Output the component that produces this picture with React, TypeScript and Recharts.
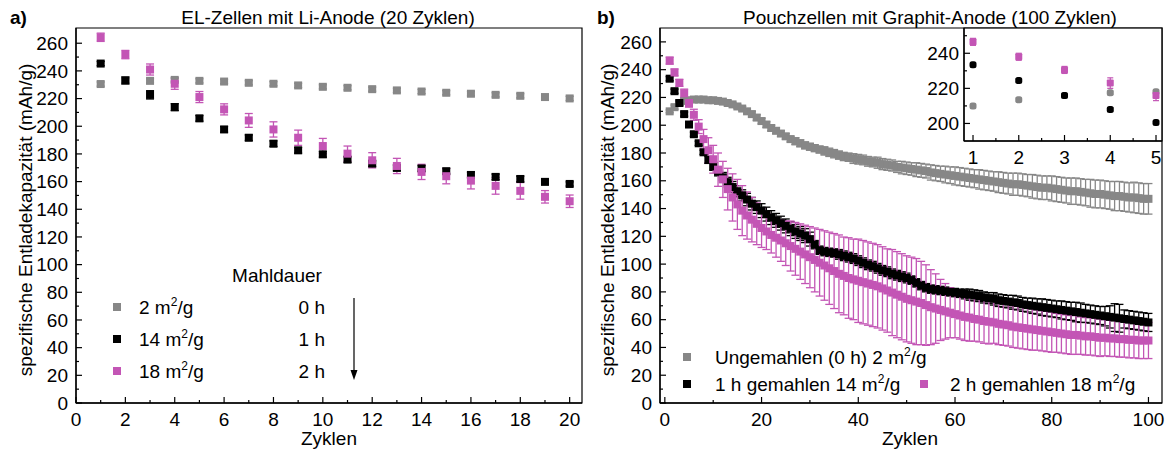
import {
  ErrorBar,
  ReferenceArea,
  Scatter,
  ScatterChart,
  XAxis,
  YAxis,
} from "recharts";

const GRAY = "#878787";
const BLACK = "#000000";
const PINK = "#c355b5";
const FONT = '"Liberation Sans", Arial, sans-serif';
const FS = 19;

// a) EL-Zellen mit Li-Anode, cycles 1..20
const grayA = [230.5, 233, 232.8, 233.5, 232.8, 232.3, 231.4, 230.7, 229.5, 228.5, 227.8, 226.8, 225.9, 225.1, 224.2, 223.5, 222.7, 222, 221.1, 220.1];
const grayErrA = [1.5, 1.5, 1.5, 1.5, 1.5, 1.5, 1.5, 1.5, 1.5, 1.5, 1.5, 1.5, 1.5, 1.5, 1.5, 1.5, 1.5, 1.5, 1.5, 1.5];
const blackA = [245.3, 233.1, 222.7, 213.8, 205.7, 197.7, 191.7, 187.4, 182.6, 179.7, 175.9, 173, 169.9, 169.5, 167.5, 164.8, 163.4, 161.9, 159.8, 158.3];
const blackErrA = [1.5, 2.5, 3, 2.5, 2, 2, 2, 2, 2, 2, 2, 2, 2, 2, 2, 2, 2, 2, 1.5, 1.5];
const pinkA = [264.3, 251.8, 241, 230.7, 221.1, 212.2, 204.2, 197.7, 191.7, 185.7, 180.2, 175.4, 171.3, 167, 163.9, 160.7, 156.9, 153.3, 149, 145.8];
const pinkErrA = [3, 3, 4, 4, 4, 4, 5, 5.5, 5.5, 5.5, 5.5, 5.5, 5.5, 5.5, 5.5, 6, 6, 6, 4.5, 4.5];

// b) Pouchzellen mit Graphit-Anode, cycles 1..100
const grayB = [
  210, 213, 216, 217.5, 218, 218.5, 218.5, 218.5, 218, 218,
  217.5, 217, 216, 215, 213.5, 212, 210, 208, 205.5, 203,
  200.5, 198, 196, 194, 192, 190, 188.5, 187, 185.5, 184.5,
  183.5, 182.5, 181.5, 180.5, 179.5, 178.5, 177.5, 177, 176, 175.5,
  175, 174, 173.5, 173, 172, 171.5, 171, 170, 169.5, 169,
  168.5, 168, 167.5, 167, 166, 165.5, 165, 164.5, 164, 163.5,
  163, 162.5, 162, 161.5, 161, 160.5, 160, 159.5, 159, 158.5,
  158, 157.5, 157.5, 157, 156.5, 156, 155.5, 155, 155, 154.5,
  154, 153.5, 153, 152.5, 152.5, 152, 151.5, 151, 150.5, 150.5,
  150, 149.5, 149, 149, 148.5, 148, 148, 147.5, 147, 147,
];
const grayErrB = [
  1, 1.5, 1.5, 1.5, 1.5, 1.5, 1.5, 1.5, 1.5, 1.5,
  1.5, 1.5, 1.5, 1.5, 1.5, 1.5, 1.5, 2, 2, 2,
  2, 2, 2, 2, 2, 2, 2.5, 2.5, 2.5, 2.5,
  2.5, 2.5, 3, 3, 3, 3, 3, 3, 3.5, 3.5,
  3.5, 3.5, 3.5, 4, 4, 4, 4, 4, 4.5, 4.5,
  4.5, 5, 5, 5, 5.5, 5.5, 5.5, 6, 6, 6.5,
  6.5, 6.5, 6.5, 6.5, 7, 7, 7, 7, 7.5, 7.5,
  7.5, 8, 8, 8, 8, 8.5, 8.5, 8.5, 8.5, 9,
  9, 9, 9, 9.5, 9.5, 9.5, 9.5, 10, 10, 10,
  10, 10, 10.5, 10.5, 10.5, 10.5, 11, 11, 11, 11,
];
const blackB = [
  233.5, 224.5, 216, 208, 200.5, 193.5, 187, 180.5, 175, 170.5,
  166.5, 162.5, 159, 155.5, 152.5, 149.5, 146.5, 143.5, 141, 138.5,
  136, 133.5, 131.5, 129.5, 127.5, 125.5, 123.5, 122, 120.5, 118,
  114, 110, 109, 108.5, 108, 107, 106, 105, 104, 102.5,
  101, 99.5, 98.5, 97, 95.5, 94.5, 93, 92, 91, 90,
  88.5, 86.5, 84.5, 83, 82, 81.5, 81, 80.5, 80, 79.5,
  79, 78.5, 78, 77.5, 77, 76, 75.5, 75, 74, 73.5,
  73, 72.5, 72, 71, 70.5, 70, 69.5, 69, 68.5, 68,
  67.5, 67, 66.5, 66, 65.5, 65, 64.5, 64, 63.5, 63,
  62.5, 62, 61.5, 61, 60.5, 60, 59.5, 59, 58.5, 58,
];
const blackErrB = [
  1.5, 1.5, 1.5, 1.5, 1.5, 1.5, 1.5, 1.5, 2.5, 3,
  3, 3.5, 3.5, 4, 4, 4, 4.5, 4.5, 4.5, 5,
  5, 5, 5, 5, 5, 5, 5, 5, 5, 5,
  3, 3, 3, 3, 3, 3.5, 3.5, 3.5, 3.5, 3.5,
  3.5, 3.5, 3.5, 3.5, 3.5, 3.5, 3.5, 3.5, 3.5, 3.5,
  3, 3, 3, 3, 3, 3, 3, 3, 3, 3,
  3, 3.5, 4, 4, 4, 4, 4, 4.5, 4.5, 4.5,
  4.5, 5, 5, 5, 5, 5.5, 5.5, 6, 6, 6,
  6, 6.5, 6.5, 6.5, 7, 7, 6.5, 6.5, 6.5, 6.5,
  7, 8, 10, 10, 6.5, 6.5, 6.5, 6.5, 6.5, 6.5,
];
const pinkB = [
  246.5, 238, 230.5, 223, 216, 207.5, 199, 190, 182, 175.5,
  168, 161, 154, 148, 143, 138.5, 135, 132, 129, 126,
  123.5, 121, 119, 117, 115, 113, 111, 109, 107, 105,
  103, 101, 99, 97, 95, 93, 91.5, 90, 89, 88,
  87, 86, 85, 84, 82.5, 81, 79.5, 78, 76.5, 75,
  74, 73, 72, 70.5, 69, 68, 67, 66, 65, 64,
  63, 62, 61.5, 60.5, 60, 59, 58.5, 58, 57, 56.5,
  56, 55, 54.5, 54, 53.5, 53, 52.5, 52, 51.5, 51,
  50.5, 50, 49.5, 49, 49, 48.5, 48, 48, 47.5, 47,
  47, 46.5, 46.5, 46, 46, 45.5, 45.5, 45, 45, 45,
];
const pinkErrB = [
  2.5, 2.5, 2.5, 3, 3, 4, 5, 7, 9, 10,
  12, 13, 15, 17, 18, 18, 17, 16, 15, 14,
  13, 13, 14, 15, 16, 18, 19, 20, 21, 22,
  23, 24, 25, 26, 27, 28, 28, 29, 29, 30,
  30, 30, 30, 30, 30, 30, 31, 31, 31, 31,
  31, 31, 30, 29, 27, 25, 22, 20, 18, 17,
  17, 17, 17, 16, 16, 16, 16, 15, 15, 15,
  15, 15, 15, 15, 15, 15, 14.5, 14.5, 14.5, 14.5,
  14, 14, 14, 14, 14, 13.5, 13.5, 13.5, 13.5, 13.5,
  13, 13, 13, 13, 13, 13, 13, 13, 13, 13,
];

// inset: first 5 cycles of b)
const grayIn = [210, 213.5, 216, 217.5, 218];
const blackIn = [233.5, 224.5, 216, 208, 200.5];
const pinkIn = [246.5, 238, 230.5, 223, 216];
const pinkErrIn = [2, 2, 2, 3, 3];

const xTicksA = [0, 1, 2, 3, 4, 5, 6, 7, 8, 9, 10, 11, 12, 13, 14, 15, 16, 17, 18, 19, 20];
const xTicksB = [0, 10, 20, 30, 40, 50, 60, 70, 80, 90, 100];
const yTicks = [0, 10, 20, 30, 40, 50, 60, 70, 80, 90, 100, 110, 120, 130, 140, 150, 160, 170, 180, 190, 200, 210, 220, 230, 240, 250, 260];
const xTicksIn = [1, 1.5, 2, 2.5, 3, 3.5, 4, 4.5, 5];
const yTicksIn = [200, 210, 220, 230, 240, 250];

const toPoints = (ys: number[], errs: number[]) =>
  ys.map((y, i) => ({ x: i + 1, y, err: errs[i] }));

const square = (color: string, s: number, r = 0) => (p: any) => (
  <rect x={p.cx - s / 2} y={p.cy - s / 2} width={s} height={s} rx={r} fill={color} />
);

// ticks point inwards, labels only on major ticks
const bottomTick = (major: (v: number) => boolean) => (p: any) => {
  const v = p.payload.value;
  const big = major(v);
  return (
    <g>
      <line x1={p.x} x2={p.x} y1={p.y} y2={p.y - (big ? 6 : 3)} stroke="#000" strokeWidth={1.2} />
      {big && (
        <text x={p.x} y={p.y + 23} textAnchor="middle" fontSize={FS} fontFamily={FONT} fill="#000">
          {v}
        </text>
      )}
    </g>
  );
};

const leftTick = (major: (v: number) => boolean, gap = 8) => (p: any) => {
  const v = p.payload.value;
  const big = major(v);
  return (
    <g>
      <line x1={p.x} x2={p.x + (big ? 6 : 3)} y1={p.y} y2={p.y} stroke="#000" strokeWidth={1.2} />
      {big && (
        <text x={p.x - gap} y={p.y} dy="0.35em" textAnchor="end" fontSize={FS} fontFamily={FONT} fill="#000">
          {v}
        </text>
      )}
    </g>
  );
};

const axisLine = { stroke: "#000", strokeWidth: 1.3 };

const PanelA = () => (
  <ScatterChart width={600} height={451} margin={{ top: 28, right: 18, bottom: 18, left: 16 }}>
    <XAxis type="number" dataKey="x" domain={[0, 20.5]} ticks={xTicksA} interval={0} tickSize={0} tickMargin={0} tickLine={false} tick={bottomTick((v) => v % 2 === 0)} height={30} axisLine={axisLine} allowDataOverflow />
    <YAxis type="number" dataKey="y" domain={[0, 271]} ticks={yTicks} interval={0} tickSize={0} tickMargin={0} tickLine={false} tick={leftTick((v) => v % 20 === 0)} width={60} axisLine={axisLine} allowDataOverflow />
    <ReferenceArea x1={0} x2={20.5} y1={0} y2={271} fill="none" stroke="#000" strokeWidth={1.2} />
    <Scatter data={toPoints(grayA, grayErrA)} shape={square(GRAY, 8)} isAnimationActive={false}>
      <ErrorBar dataKey="err" direction="y" width={4} stroke={GRAY} strokeWidth={1.3} />
    </Scatter>
    <Scatter data={toPoints(blackA, blackErrA)} shape={square(BLACK, 8)} isAnimationActive={false}>
      <ErrorBar dataKey="err" direction="y" width={4} stroke={BLACK} strokeWidth={1.3} />
    </Scatter>
    <Scatter data={toPoints(pinkA, pinkErrA)} shape={square(PINK, 8)} isAnimationActive={false}>
      <ErrorBar dataKey="err" direction="y" width={4} stroke={PINK} strokeWidth={1.3} />
    </Scatter>
  </ScatterChart>
);

const PanelB = () => (
  <ScatterChart width={585} height={451} margin={{ top: 28, right: 7, bottom: 18, left: 16 }}>
    <XAxis type="number" dataKey="x" domain={[-1, 102.8]} ticks={xTicksB} interval={0} tickSize={0} tickMargin={0} tickLine={false} tick={bottomTick((v) => v % 20 === 0)} height={30} axisLine={axisLine} allowDataOverflow />
    <YAxis type="number" dataKey="y" domain={[0, 270]} ticks={yTicks} interval={0} tickSize={0} tickMargin={0} tickLine={false} tick={leftTick((v) => v % 20 === 0)} width={60} axisLine={axisLine} allowDataOverflow />
    <ReferenceArea x1={-1} x2={102.8} y1={0} y2={270} fill="none" stroke="#000" strokeWidth={1.2} />
    <Scatter data={toPoints(grayB, grayErrB)} shape={square(GRAY, 8)} isAnimationActive={false}>
      <ErrorBar dataKey="err" direction="y" width={4} stroke={GRAY} strokeWidth={1.3} />
    </Scatter>
    <Scatter data={toPoints(blackB, blackErrB)} shape={square(BLACK, 8)} isAnimationActive={false}>
      <ErrorBar dataKey="err" direction="y" width={4} stroke={BLACK} strokeWidth={1.3} />
    </Scatter>
    <Scatter data={toPoints(pinkB, pinkErrB)} shape={square(PINK, 8)} isAnimationActive={false}>
      <ErrorBar dataKey="err" direction="y" width={4} stroke={PINK} strokeWidth={1.3} />
    </Scatter>
  </ScatterChart>
);

const Inset = () => (
  <ScatterChart width={269} height={175} margin={{ top: 28, right: 7, bottom: 8, left: 24 }}>
    <XAxis type="number" dataKey="x" domain={[0.803, 5.131]} ticks={xTicksIn} interval={0} tickSize={0} tickMargin={0} tickLine={false} tick={bottomTick((v) => Number.isInteger(v))} height={26} axisLine={axisLine} allowDataOverflow />
    <YAxis type="number" dataKey="y" domain={[190, 254.4]} ticks={yTicksIn} interval={0} tickSize={0} tickMargin={0} tickLine={false} tick={leftTick((v) => v % 20 === 0, 5)} width={40} axisLine={axisLine} allowDataOverflow />
    <ReferenceArea x1={0.803} x2={5.131} y1={190} y2={254.4} fill="#fff" stroke="#000" strokeWidth={1.2} />
    <Scatter data={toPoints(grayIn, [1, 1, 1, 1, 1])} shape={square(GRAY, 7, 2.5)} isAnimationActive={false}>
      <ErrorBar dataKey="err" direction="y" width={3} stroke={GRAY} strokeWidth={1.2} />
    </Scatter>
    <Scatter data={toPoints(blackIn, [1, 1, 1, 1, 1])} shape={square(BLACK, 7, 2.5)} isAnimationActive={false}>
      <ErrorBar dataKey="err" direction="y" width={3} stroke={BLACK} strokeWidth={1.2} />
    </Scatter>
    <Scatter data={toPoints(pinkIn, pinkErrIn)} shape={square(PINK, 7, 1)} isAnimationActive={false}>
      <ErrorBar dataKey="err" direction="y" width={3} stroke={PINK} strokeWidth={1.2} />
    </Scatter>
  </ScatterChart>
);

const txt = { fontFamily: FONT, fontSize: FS, fill: "#000" };

// "m²/g" with a small raised 2, like the original
const Unit = () => (
  <>
    m<tspan fontSize={12} dy={-8}>2</tspan>
    <tspan dy={8}>/g</tspan>
  </>
);

const Annotations = () => (
  <svg width={1169} height={451} style={{ position: "absolute", left: 0, top: 0, pointerEvents: "none" }}>
    {/* panel letters and titles */}
    <text x={10} y={24} {...txt} fontWeight="bold">a)</text>
    <text x={328} y={24} textAnchor="middle" {...txt}>EL-Zellen mit Li-Anode (20 Zyklen)</text>
    <text x={597} y={24} {...txt} fontWeight="bold">b)</text>
    <text x={930} y={24} textAnchor="middle" {...txt}>Pouchzellen mit Graphit-Anode (100 Zyklen)</text>

    {/* axis titles */}
    <text transform="translate(32,220) rotate(-90)" textAnchor="middle" {...txt}>spezifische Entladekapazität (mAh/g)</text>
    <text transform="translate(614,220) rotate(-90)" textAnchor="middle" {...txt}>spezifische Entladekapazität (mAh/g)</text>
    <text x={329} y={445} textAnchor="middle" {...txt}>Zyklen</text>
    <text x={910} y={445} textAnchor="middle" {...txt}>Zyklen</text>

    {/* legend a) */}
    <text x={277} y={282} textAnchor="middle" {...txt}>Mahldauer</text>
    <rect x={113} y={303} width={8} height={8} fill={GRAY} />
    <rect x={113} y={335} width={8} height={8} fill={BLACK} />
    <rect x={113} y={367} width={8} height={8} fill={PINK} />
    <text x={139} y={314} {...txt}>2 <Unit /></text>
    <text x={139} y={346} {...txt}>14 <Unit /></text>
    <text x={139} y={378} {...txt}>18 <Unit /></text>
    <text x={325} y={314} textAnchor="end" {...txt}>0 h</text>
    <text x={325} y={346} textAnchor="end" {...txt}>1 h</text>
    <text x={325} y={378} textAnchor="end" {...txt}>2 h</text>
    <line x1={354} x2={354} y1={298} y2={372} stroke="#000" strokeWidth={1.2} />
    <polygon points="350.5,370 357.5,370 354,380" fill="#000" />

    {/* legend b) */}
    <rect x={683} y={353} width={8} height={8} fill={GRAY} />
    <text x={715} y={364} {...txt}>Ungemahlen (0 h) 2 <Unit /></text>
    <rect x={683} y={380} width={8} height={8} fill={BLACK} />
    <text x={715} y={391} {...txt}>1 h gemahlen 14 <Unit /></text>
    <rect x={920} y={380} width={8} height={8} fill={PINK} />
    <text x={950} y={391} {...txt}>2 h gemahlen 18 <Unit /></text>
  </svg>
);

export default function App() {
  return (
    <div style={{ position: "absolute", left: 0, top: 0, width: 1169, height: 451, overflow: "hidden", background: "#fff", fontFamily: FONT }}>
      <div style={{ position: "absolute", left: 0, top: 0 }}>
        <PanelA />
      </div>
      <div style={{ position: "absolute", left: 584, top: 0 }}>
        <PanelB />
      </div>
      <div style={{ position: "absolute", left: 900, top: 0 }}>
        <Inset />
      </div>
      <Annotations />
    </div>
  );
}
